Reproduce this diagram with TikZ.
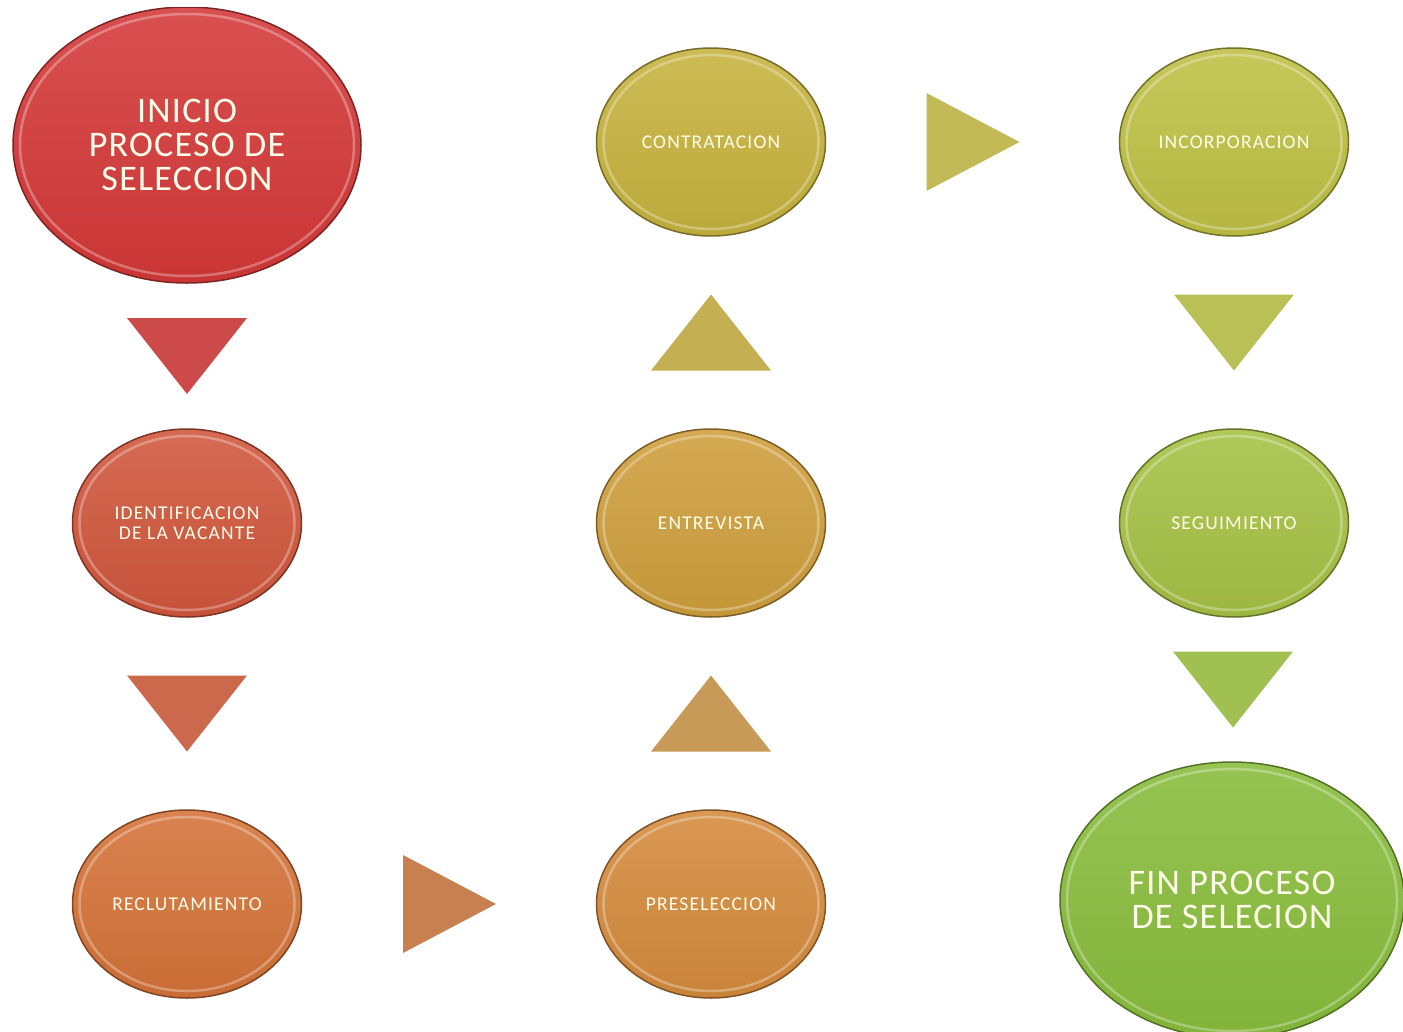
\documentclass[tikz,border=0pt]{standalone}
\usepackage{fontspec}
\setmainfont{Carlito}
\usetikzlibrary{shapes.geometric,calc}

\definecolor{cInicio}{RGB}{212,56,56}
\definecolor{cIdent}{RGB}{208,86,60}
\definecolor{cReclu}{RGB}{212,114,56}
\definecolor{cPresel}{RGB}{212,138,60}
\definecolor{cEntre}{RGB}{206,158,60}
\definecolor{cContra}{RGB}{198,178,62}
\definecolor{cIncorp}{RGB}{190,192,68}
\definecolor{cSegui}{RGB}{166,192,68}
\definecolor{cFin}{RGB}{136,188,60}
\definecolor{tA}{RGB}{204,74,74}
\definecolor{tB}{RGB}{204,104,76}
\definecolor{tC}{RGB}{200,128,80}
\definecolor{tD}{RGB}{200,154,88}
\definecolor{tE}{RGB}{196,176,82}
\definecolor{tF}{RGB}{194,186,86}
\definecolor{tG}{RGB}{184,192,86}
\definecolor{tH}{RGB}{160,192,82}

\tikzset{
	etapa/.style={ellipse, inner sep=0pt, align=center,
		minimum width=229pt, minimum height=188pt,
		text=white!92!yellow, font=\fontsize{19.5}{20}\selectfont\addfontfeatures{LetterSpace=6},
		top color=#1!88!white, bottom color=#1!95!black, draw=#1!60!black, line width=1.5pt,
		path picture={\draw[white, opacity=.3, line width=2.5pt]
			let \p1=($(path picture bounding box.north east)-(path picture bounding box.center)$) in
			(path picture bounding box.center) ellipse [x radius=\x1-7pt, y radius=\y1-7pt];}},
	grande/.style={etapa=#1, minimum width=348pt, minimum height=276pt,
		font=\fontsize{36}{34}\selectfont\addfontfeatures{LetterSpace=3.5}},
}

\begin{document}
\begin{tikzpicture}[x=1pt,y=-1pt]
	\useasboundingbox (0,0) rectangle (1403,1031);
	\clip (0,7) rectangle (1403,1031);
	% etapas
	\node[grande=cInicio] (inicio) at (187,145) {INICIO\\PROCESO DE\\SELECCION};
	\node[etapa=cIdent] (ident) at (187,523) {IDENTIFICACION\\DE LA VACANTE};
	\node[etapa=cReclu] (reclu) at (187,904) {RECLUTAMIENTO};
	\node[etapa=cPresel] (presel) at (711,904) {PRESELECCION};
	\node[etapa=cEntre] (entre) at (711,523) {ENTREVISTA};
	\node[etapa=cContra] (contra) at (711,142) {CONTRATACION};
	\node[etapa=cIncorp] (incorp) at (1234,142) {INCORPORACION};
	\node[etapa=cSegui] (segui) at (1234,523) {SEGUIMIENTO};
	\node[grande=cFin, minimum width=344pt] (fin) at (1232,900) {FIN PROCESO\\DE SELECION};
	% flechas
	\coordinate (t1) at ($(inicio.south)!.5!(ident.north)$);
	\coordinate (t2) at ($(ident.south)!.5!(reclu.north)$);
	\coordinate (t3) at ($(reclu.east)!.5!(presel.west)$);
	\coordinate (t4) at ($(presel.north)!.5!(entre.south)$);
	\coordinate (t5) at ($(entre.north)!.5!(contra.south)$);
	\coordinate (t6) at ($(contra.east)!.5!(incorp.west)$);
	\coordinate (t7) at ($(incorp.south)!.5!(segui.north)$);
	\coordinate (t8) at ($(segui.south)!.5!(fin.north)$);
	\fill[tA] ($(t1)+(-60,-38)$) -- ($(t1)+(60,-38)$) -- ($(t1)+(0,38)$) -- cycle;
	\fill[tB] ($(t2)+(-60,-38)$) -- ($(t2)+(60,-38)$) -- ($(t2)+(0,38)$) -- cycle;
	\fill[tC] ($(t3)+(-46,-49)$) -- ($(t3)+(-46,49)$) -- ($(t3)+(47,0)$) -- cycle;
	\fill[tD] ($(t4)+(-60,38)$) -- ($(t4)+(60,38)$) -- ($(t4)+(0,-38)$) -- cycle;
	\fill[tE] ($(t5)+(-60,38)$) -- ($(t5)+(60,38)$) -- ($(t5)+(0,-38)$) -- cycle;
	\fill[tF] ($(t6)+(-46,-49)$) -- ($(t6)+(-46,49)$) -- ($(t6)+(47,0)$) -- cycle;
	\fill[tG] ($(t7)+(-60,-38)$) -- ($(t7)+(60,-38)$) -- ($(t7)+(0,38)$) -- cycle;
	\fill[tH] ($(t8)+(-60,-38)$) -- ($(t8)+(60,-38)$) -- ($(t8)+(0,38)$) -- cycle;
\end{tikzpicture}
\end{document}
